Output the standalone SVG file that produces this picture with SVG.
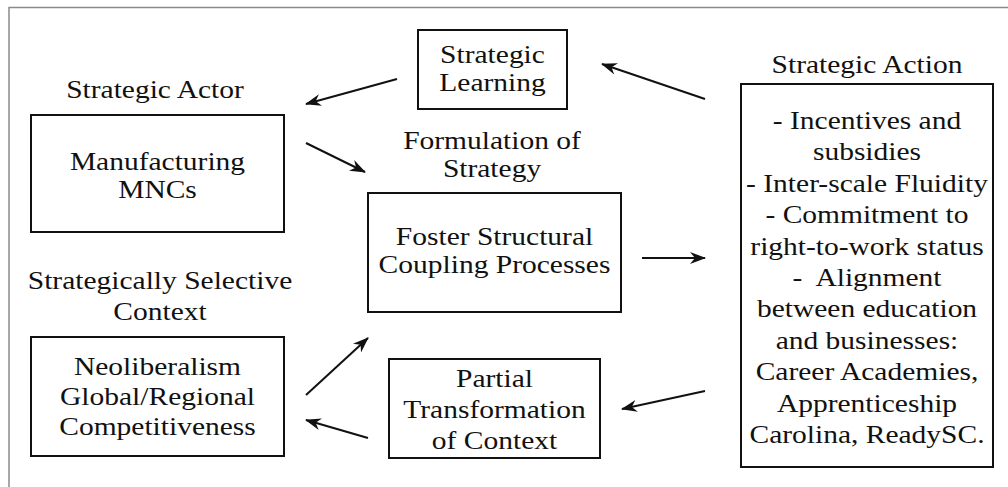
<svg xmlns="http://www.w3.org/2000/svg" width="1008" height="487" viewBox="0 0 1008 487">
<style>
.box{fill:#fff;stroke:#111;stroke-width:2}
.t{font-family:"Liberation Serif","Times New Roman",serif;font-size:25px;fill:#111;text-anchor:middle}
.c{stroke:#111;stroke-width:2;fill:none;marker-end:url(#ah)}
</style>
<defs>
<marker id="ah" viewBox="0 0 16 12" refX="15" refY="6" markerWidth="16" markerHeight="12" markerUnits="userSpaceOnUse" orient="auto">
<path d="M0,0 L16,6 L0,12 L5,6 z" fill="#111"/>
</marker>
</defs>
<rect width="1008" height="487" fill="#fff"/>
<path d="M9,487 V7.5 H1008" fill="none" stroke="#8a8a8a" stroke-width="1.5"/>

<g id="strategic-actor">
<text class="t" transform="translate(155,98) scale(1.18,1)">Strategic Actor</text>
<rect class="box" x="31" y="115" width="253" height="117"/>
<text class="t" transform="translate(157.5,170) scale(1.18,1)">Manufacturing</text>
<text class="t" transform="translate(157.5,198) scale(1.18,1)">MNCs</text>
</g>

<g id="strategic-learning">
<rect class="box" x="418" y="30" width="149" height="79"/>
<text class="t" transform="translate(492.5,63) scale(1.18,1)">Strategic</text>
<text class="t" transform="translate(492.5,91) scale(1.18,1)">Learning</text>
</g>

<g id="formulation">
<text class="t" transform="translate(492,149) scale(1.18,1)">Formulation of</text>
<text class="t" transform="translate(492,177) scale(1.18,1)">Strategy</text>
<rect class="box" x="368" y="193" width="253" height="119"/>
<text class="t" transform="translate(494.5,245) scale(1.18,1)">Foster Structural</text>
<text class="t" transform="translate(494.5,273) scale(1.18,1)">Coupling Processes</text>
</g>

<g id="strategic-action">
<text class="t" transform="translate(867,73) scale(1.18,1)">Strategic Action</text>
<rect class="box" x="741" y="84" width="252" height="383"/>
<text class="t" transform="translate(867,129) scale(1.18,1)">- Incentives and</text>
<text class="t" transform="translate(867,160.4) scale(1.18,1)">subsidies</text>
<text class="t" transform="translate(867,191.8) scale(1.18,1)">- Inter-scale Fluidity</text>
<text class="t" transform="translate(867,223.2) scale(1.18,1)">- Commitment to</text>
<text class="t" transform="translate(867,254.6) scale(1.18,1)">right-to-work status</text>
<text class="t" transform="translate(867,286) scale(1.18,1)" xml:space="preserve">-  Alignment</text>
<text class="t" transform="translate(867,317.4) scale(1.18,1)">between education</text>
<text class="t" transform="translate(867,348.8) scale(1.18,1)">and businesses:</text>
<text class="t" transform="translate(867,380.2) scale(1.18,1)">Career Academies,</text>
<text class="t" transform="translate(867,411.6) scale(1.18,1)">Apprenticeship</text>
<text class="t" transform="translate(867,443) scale(1.18,1)">Carolina, ReadySC.</text>
</g>

<g id="context">
<text class="t" transform="translate(160,289) scale(1.18,1)">Strategically Selective</text>
<text class="t" transform="translate(160,320) scale(1.18,1)">Context</text>
<rect class="box" x="31" y="337" width="253" height="119"/>
<text class="t" transform="translate(157.5,375) scale(1.18,1)">Neoliberalism</text>
<text class="t" transform="translate(157.5,405) scale(1.18,1)">Global/Regional</text>
<text class="t" transform="translate(157.5,435) scale(1.18,1)">Competitiveness</text>
</g>

<g id="partial-transformation">
<rect class="box" x="389" y="359" width="211" height="99"/>
<text class="t" transform="translate(494.5,387) scale(1.18,1)">Partial</text>
<text class="t" transform="translate(494.5,418) scale(1.18,1)">Transformation</text>
<text class="t" transform="translate(494.5,449) scale(1.18,1)">of Context</text>
</g>

<g id="connectors">
<line class="c" x1="397" y1="79" x2="306" y2="104"/>
<line class="c" x1="306" y1="143" x2="365" y2="172"/>
<line class="c" x1="705" y1="99" x2="602" y2="64"/>
<line class="c" x1="642" y1="258" x2="705" y2="258"/>
<line class="c" x1="705" y1="391" x2="622" y2="409"/>
<line class="c" x1="368" y1="438" x2="306" y2="420"/>
<line class="c" x1="306" y1="395" x2="368" y2="338"/>
</g>
</svg>
